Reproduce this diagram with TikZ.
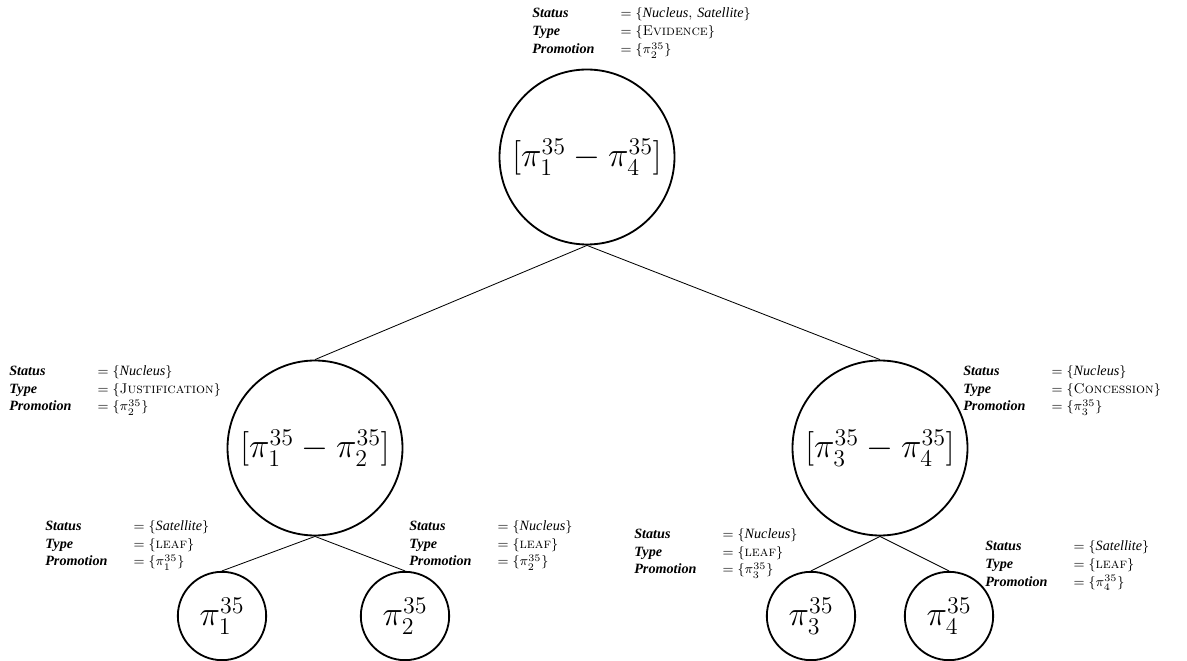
\documentclass[tikz,border=0pt]{standalone}
\usepackage[no-math]{fontspec}
\usepackage{tikz}
\usetikzlibrary{positioning}
\newfontfamily\attrfont{Liberation Serif}
\newcommand{\keyit}[1]{{\attrfont\bfseries\itshape #1}}
\newcommand{\valit}[1]{{\attrfont\itshape #1}}
\newcommand{\rstinfo}[3]{%
  \begin{tabular}[t]{@{}p{53pt}@{}l@{}}
    \keyit{Status}    & $=\{$#1$\}$\\
    \keyit{Type}      & $=\{$#2$\}$\\
    \keyit{Promotion} & $=\{#3\}$
  \end{tabular}}

\begin{document}
\begin{tikzpicture}[x=0.6pt,y=-0.6pt,
    spannode/.style={circle,draw,line width=1.1pt,minimum size=105pt,inner sep=0pt,
      font=\fontsize{19.5}{23}\selectfont},
    leafnode/.style={circle,draw,line width=1.1pt,minimum size=53pt,inner sep=0pt,
      font=\fontsize{19.5}{23}\selectfont},
    branch/.style={line width=0.5pt},
    rstlabel/.style={inner sep=0pt,anchor=base west,font=\fontsize{8.5}{10.8}\selectfont}]
  \useasboundingbox (0,0) rectangle (1187,661);

  % tree nodes
  \node[spannode] (root) at (587,157) {$[\pi_1^{35}-\pi_4^{35}]$};
  \node[spannode] (lmid) at (315,448) {$[\pi_1^{35}-\pi_2^{35}]$};
  \node[spannode] (rmid) at (880,448) {$[\pi_3^{35}-\pi_4^{35}]$};
  \node[leafnode] (leafa) at (222,616) {$\pi_1^{35}$};
  \node[leafnode] (leafb) at (405,616) {$\pi_2^{35}$};
  \node[leafnode] (leafc) at (811,616) {$\pi_3^{35}$};
  \node[leafnode] (leafd) at (949,616) {$\pi_4^{35}$};

  % branches
  \draw[branch] (root.south) -- (lmid.north);
  \draw[branch] (root.south) -- (rmid.north);
  \draw[branch] (lmid.south) -- (leafa.north);
  \draw[branch] (lmid.south) -- (leafb.north);
  \draw[branch] (rmid.south) -- (leafc.north);
  \draw[branch] (rmid.south) -- (leafd.north);

  % attributes
  \node[rstlabel] (rootinfo) at (532,18)
    {\rstinfo{\valit{Nucleus}, \valit{Satellite}}{\textsc{Evidence}}{\pi_2^{35}}};
  \node[rstlabel] (lmidinfo) at (9,375)
    {\rstinfo{\valit{Nucleus}}{\textsc{Justification}}{\pi_2^{35}}};
  \node[rstlabel] (rmidinfo) at (963,375)
    {\rstinfo{\valit{Nucleus}}{\textsc{Concession}}{\pi_3^{35}}};
  \node[rstlabel] (leafainfo) at (45,530)
    {\rstinfo{\valit{Satellite}}{\textsc{leaf}}{\pi_1^{35}}};
  \node[rstlabel] (leafbinfo) at (409,530)
    {\rstinfo{\valit{Nucleus}}{\textsc{leaf}}{\pi_2^{35}}};
  \node[rstlabel] (leafcinfo) at (634,538)
    {\rstinfo{\valit{Nucleus}}{\textsc{leaf}}{\pi_3^{35}}};
  \node[rstlabel] (leafdinfo) at (985,550)
    {\rstinfo{\valit{Satellite}}{\textsc{leaf}}{\pi_4^{35}}};
\end{tikzpicture}
\end{document}
